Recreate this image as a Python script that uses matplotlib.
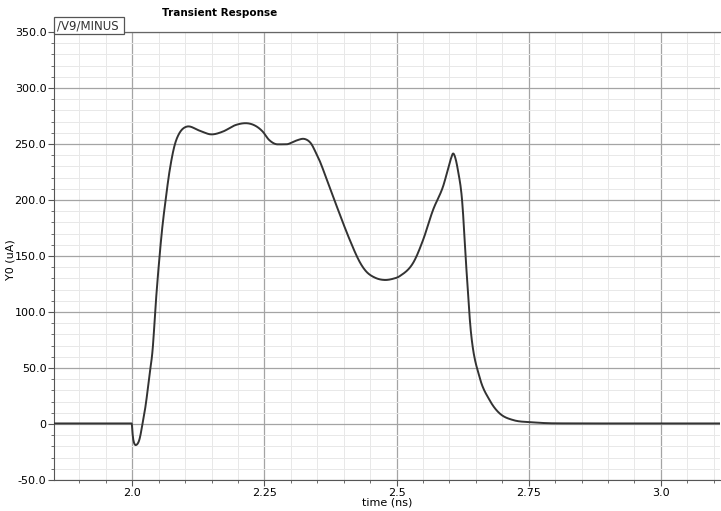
import numpy as np
import matplotlib
matplotlib.use("Agg")
import matplotlib.pyplot as plt
from matplotlib.ticker import MultipleLocator, FixedLocator

# traced points of /V9/MINUS (time in ns, current in uA)
time_ns = [1.852, 1.90, 1.95, 1.999, 2.0005, 2.002, 2.004, 2.007, 2.0135, 2.0196,
           2.026, 2.032, 2.0385, 2.045, 2.051, 2.057, 2.064, 2.070, 2.0795, 2.089,
           2.103, 2.127, 2.149, 2.171, 2.196, 2.218, 2.234, 2.247, 2.259, 2.275,
           2.291, 2.310, 2.326, 2.338, 2.348, 2.354, 2.373, 2.392, 2.411, 2.430,
           2.443, 2.460, 2.477, 2.492, 2.506, 2.531, 2.550, 2.569, 2.588, 2.597,
           2.603, 2.607, 2.611, 2.616, 2.624, 2.632, 2.641, 2.657, 2.676, 2.695,
           2.720, 2.758, 2.80, 2.90, 3.0, 3.112]
current_ua = [0.5, 0.5, 0.5, 0.5, -8.0, -14.0, -17.5, -18.8, -14.0, 0.6,
              18.7, 42.0, 66.0, 111.0, 146.0, 176.0, 203.0, 224.0, 247.6, 259.5,
              265.5, 262.0, 258.6, 261.0, 267.0, 268.5, 266.0, 261.0, 253.6, 249.7,
              249.7, 253.0, 254.5, 250.6, 241.7, 235.7, 212.0, 188.0, 165.0, 145.0,
              136.0, 130.5, 128.6, 129.5, 132.0, 143.5, 164.0, 191.0, 212.0, 227.0,
              237.0, 241.5, 238.0, 227.0, 200.0, 140.0, 81.0, 42.0, 21.4, 9.5,
              3.6, 1.5, 0.6, 0.5, 0.5, 0.5]

x_ticks = [2.0, 2.25, 2.5, 2.75, 3.0]
x_labels = ["2.0", "2.25", "2.5", "2.75", "3.0"]
y_ticks = [-50, 0, 50, 100, 150, 200, 250, 300, 350]
y_labels = ["-50.0", "0", "50.0", "100.0", "150.0", "200.0", "250.0", "300.0", "350.0"]

# smooth the trace a bit with a monotone-ish cubic through the points
def smooth(xs, ys, n=2000):
    xs = np.asarray(xs, float)
    ys = np.asarray(ys, float)
    h = np.diff(xs)
    d = np.diff(ys) / h
    m = np.zeros_like(ys)
    m[1:-1] = (d[:-1] + d[1:]) / 2
    m[0], m[-1] = d[0], d[-1]
    for i in range(len(d)):
        if d[i] == 0:
            m[i] = m[i + 1] = 0
        else:
            a, b = m[i] / d[i], m[i + 1] / d[i]
            s = a * a + b * b
            if s > 9:
                t = 3 / np.sqrt(s)
                m[i], m[i + 1] = t * a * d[i], t * b * d[i]
    xx = np.linspace(xs[0], xs[-1], n)
    k = np.clip(np.searchsorted(xs, xx) - 1, 0, len(h) - 1)
    t = (xx - xs[k]) / h[k]
    h00 = 2 * t**3 - 3 * t**2 + 1
    h10 = t**3 - 2 * t**2 + t
    h01 = -2 * t**3 + 3 * t**2
    h11 = t**3 - t**2
    yy = h00 * ys[k] + h10 * h[k] * m[k] + h01 * ys[k + 1] + h11 * h[k] * m[k + 1]
    return xx, yy

fig = plt.figure(figsize=(7.21, 5.11), dpi=100)
ax = fig.add_axes([54 / 721, 1 - 480 / 511, 666 / 721, 448 / 511])

xx, yy = smooth(time_ns, current_ua)
ax.plot(xx, yy, color="#333333", lw=1.4, zorder=3)

ax.set_xlim(1.852, 3.112)
ax.set_ylim(-50, 350)
ax.xaxis.set_major_locator(FixedLocator(x_ticks))
ax.set_xticklabels(x_labels)
ax.xaxis.set_minor_locator(MultipleLocator(0.05))
ax.yaxis.set_major_locator(FixedLocator(y_ticks))
ax.set_yticklabels(y_labels)
ax.yaxis.set_minor_locator(MultipleLocator(10))

ax.grid(which="major", color="#a4a4a4", lw=0.9)
ax.grid(which="minor", color="#e8e8e8", lw=0.7)
ax.set_axisbelow(True)

for s in ["top", "right"]:
    ax.spines[s].set_visible(False)
ax.spines["left"].set_color("#555555")
ax.spines["bottom"].set_color("#555555")
ax.plot([0, 1], [1, 1], transform=ax.transAxes, color="#666666", lw=0.9, clip_on=False)

ax.tick_params(which="major", length=4, color="#555555", labelsize=8, pad=1.5)
ax.tick_params(which="minor", length=2, color="#555555")

ax.set_xlabel("time (ns)", fontsize=8, labelpad=0)
ax.set_ylabel("Y0 (uA)", fontsize=8)
ax.yaxis.set_label_coords(-0.058, 0.493)

fig.text(162 / 721, 1 - 13 / 511, "Transient Response", fontsize=7.5,
         fontweight="bold", va="center", ha="left")
ax.text(0.004, 1.0, "/V9/MINUS ", transform=ax.transAxes, fontsize=8.5,
        va="bottom", ha="left", color="#333333",
        bbox=dict(boxstyle="square,pad=0.2", fc="white", ec="#555555", lw=0.9))

fig.savefig("out.png", dpi=100)
